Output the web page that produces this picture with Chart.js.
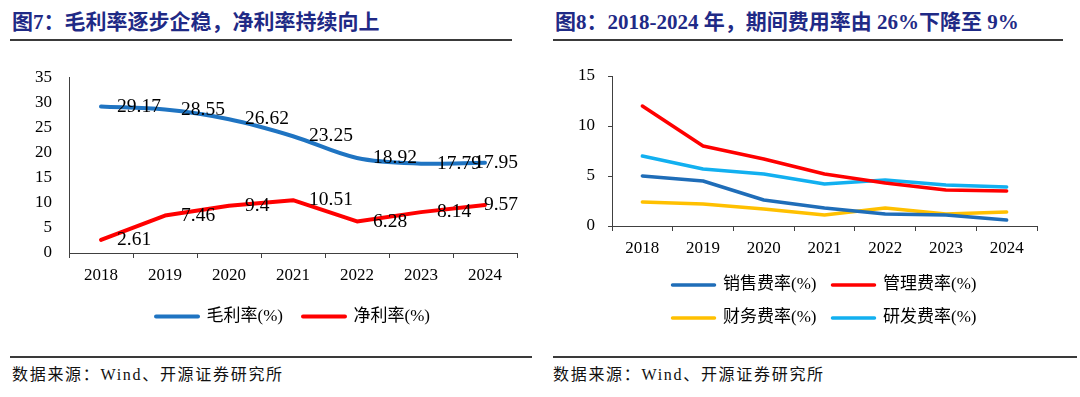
<!DOCTYPE html>
<html><head><meta charset="utf-8">
<script src="https://cdn.jsdelivr.net/npm/chart.js@4"></script>
<style>
body{margin:0;width:1080px;height:397px;background:#fff;position:relative;overflow:hidden;font-family:"Liberation Serif","Noto Sans CJK SC",serif;}
.t{position:absolute;top:8px;font-size:21px;font-weight:bold;color:#1F2A86;white-space:nowrap;line-height:28px}
.rule{position:absolute;height:2px;background:#3a3a3a}
.src{position:absolute;top:365px;font-size:16px;letter-spacing:1.7px;color:#111;line-height:20px;white-space:nowrap}
canvas{position:absolute;top:50px}
</style></head>
<body>
<div class="t" style="left:12px">图7：毛利率逐步企稳，净利率持续向上</div>
<div class="rule" style="left:10px;top:39px;width:502px"></div>
<div class="t" style="left:555px">图8：2018-2024 年，期间费用率由 26%下降至 9%</div>
<div class="rule" style="left:553px;top:39px;width:510px"></div>
<canvas id="c1" width="540" height="290" style="left:0"></canvas>
<canvas id="c2" width="540" height="290" style="left:540px"></canvas>
<div class="rule" style="left:10px;top:356px;width:522px"></div>
<div class="rule" style="left:553px;top:356px;width:524px"></div>
<div class="src" style="left:12px">数据来源：Wind、开源证券研究所</div>
<div class="src" style="left:553px">数据来源：Wind、开源证券研究所</div>
<script>
const years = ['2018','2019','2020','2021','2022','2023','2024'];
const grossMargin = [29.17, 28.55, 26.62, 23.25, 18.92, 17.79, 17.95];
const netMargin = [2.61, 7.46, 9.4, 10.51, 6.28, 8.14, 9.57];
const salesRate = [5.0, 4.5, 2.6, 1.8, 1.2, 1.1, 0.6];
const adminRate = [12.0, 8.0, 6.7, 5.2, 4.3, 3.6, 3.5];
const finRate = [2.4, 2.2, 1.7, 1.1, 1.8, 1.2, 1.4];
const rdRate = [7.0, 5.7, 5.2, 4.2, 4.6, 4.1, 3.9];

const FAM = '"Liberation Serif", "Noto Sans CJK SC", serif';
const AXIS = '#404040';

const valueLabels = {
  id: 'valueLabels',
  afterDatasetsDraw(chart) {
    const ctx = chart.ctx, area = chart.chartArea;
    ctx.save();
    ctx.font = '19.5px "Liberation Serif"';
    ctx.fillStyle = '#000';
    ctx.textBaseline = 'middle';
    ctx.textAlign = 'left';
    chart.data.datasets.forEach((ds, i) => {
      chart.getDatasetMeta(i).data.forEach((pt, j) => {
        const txt = String(ds.data[j]);
        const w = ctx.measureText(txt).width;
        let x = pt.x + 16;
        if (x + w > area.right + 1) x = area.right + 1 - w;
        ctx.fillText(txt, x, pt.y);
      });
    });
    ctx.restore();
  }
};

function ds(label, data, color, width, tension) {
  return {label, data, borderColor: color, backgroundColor: color, borderWidth: width,
    tension, pointRadius: 0, pointHoverRadius: 0, fill: false, borderCapStyle: 'round', borderJoinStyle: 'round'};
}

function xScale(h) {
  return {
    offset: true,
    grid: {display: true, drawOnChartArea: false, drawTicks: true, tickLength: 5, offset: true, color: AXIS},
    border: {display: true, color: AXIS, width: 1},
    ticks: {padding: 7, color: '#000', font: {family: FAM, size: 17}, maxRotation: 0, autoSkip: false},
    afterFit(s) { s.height = h; }
  };
}

new Chart(document.getElementById('c1'), {
  type: 'line',
  data: {labels: years, datasets: [
    ds('毛利率(%)', grossMargin, '#1F74C2', 4, 0.35),
    ds('净利率(%)', netMargin, '#FF0000', 4, 0)
  ]},
  options: {
    responsive: false, animation: false,
    layout: {padding: {left: 0, right: 23, top: 25, bottom: 5}},
    plugins: {
      legend: {position: 'bottom', fullSize: false,
        labels: {boxWidth: 42, boxHeight: 0, padding: 20, color: '#000', font: {family: FAM, size: 17}}},
      tooltip: {enabled: false}
    },
    scales: {
      x: xScale(35),
      y: {min: 0, max: 35,
        ticks: {stepSize: 5, padding: 17, color: '#000', font: {family: FAM, size: 17}},
        grid: {display: false, drawTicks: false},
        border: {display: true, color: AXIS, width: 1},
        afterFit(s) { s.width = 69; }}
    }
  },
  plugins: [valueLabels]
});

new Chart(document.getElementById('c2'), {
  type: 'line',
  data: {labels: years, datasets: [
    ds('销售费率(%)', salesRate, '#1F6DB8', 3.5, 0),
    ds('管理费率(%)', adminRate, '#FF0000', 3.5, 0),
    ds('财务费率(%)', finRate, '#FFC000', 3.5, 0),
    ds('研发费率(%)', rdRate, '#12B0F0', 3.5, 0)
  ]},
  options: {
    responsive: false, animation: false,
    layout: {padding: {left: 0, right: 43, top: 26, bottom: 3.5}},
    plugins: {
      legend: {position: 'bottom', fullSize: false,
        labels: {boxWidth: 42, boxHeight: 0, padding: 16, color: '#000', font: {family: FAM, size: 17}}},
      tooltip: {enabled: false}
    },
    scales: {
      x: xScale(34.5),
      y: {min: 0, max: 15,
        ticks: {stepSize: 5, padding: 13, color: '#000', font: {family: FAM, size: 17}},
        grid: {display: true, drawOnChartArea: false, drawTicks: true, tickLength: 4, color: AXIS},
        border: {display: true, color: AXIS, width: 1},
        afterFit(s) { s.width = 72; }}
    }
  }
});
</script>
</body></html>
